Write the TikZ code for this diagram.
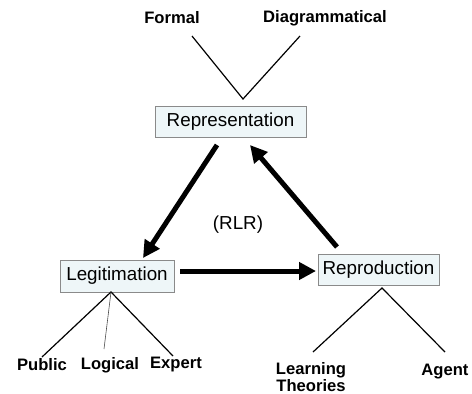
\documentclass[tikz,border=0pt]{standalone}
\usepackage{fontspec}
\setmainfont{Liberation Sans}
\usetikzlibrary{arrows.meta}
\definecolor{boxfill}{HTML}{EEF6F8}
\definecolor{boxline}{HTML}{8A8A8A}
\tikzset{
  conceptbox/.style={draw=boxline, fill=boxfill, line width=0.9pt, font=\fontsize{18.8}{22}\selectfont, inner sep=0pt, minimum height=31pt},
  leaf/.style={font=\bfseries\fontsize{16.6}{19.5}\selectfont, inner sep=0pt, align=center},
  bigarrow/.style={line width=5pt, -{Triangle[length=17pt,width=17pt]}},
  branch/.style={line width=1.2pt, black},
  thinbranch/.style={line width=0.6pt, black!70}
}
\begin{document}
\begin{tikzpicture}[x=1pt,y=-1pt]
\useasboundingbox[fill=white] (0,0) rectangle (472,394);
% boxes
\node[conceptbox, minimum width=151pt] (rep) at (230.5,121.5) {Representation};
\node[conceptbox, minimum width=114pt, minimum height=32pt] (leg) at (117,276) {Legitimation};
\node[conceptbox, minimum width=121pt] (repro) at (378.5,269.5) {Reproduction};
% labels
\node[leaf] (formal) at (172,18) {Formal};
\node[leaf] (diag) at (325,18) {Diagrammatical};
\node[leaf] (public) at (42,365) {Public};
\node[leaf] (logical) at (110,365) {Logical};
\node[leaf] (expert) at (176,365) {Expert};
\node[leaf] (learning) at (311,377) {Learning\\[-2pt]Theories};
\node[leaf] (agent) at (445,372) {Agent};
\node[font=\fontsize{18.8}{22}\selectfont, inner sep=0pt] (rlr) at (238,225) {(RLR)};
% branch coordinates
\coordinate (vtop) at (243,99);
\coordinate (fend) at (192,36);
\coordinate (dend) at (300,36);
\coordinate (lroot) at (111,292);
\coordinate (pend) at (42,357);
\coordinate (lend) at (104,349);
\coordinate (eend) at (173,356);
\coordinate (rroot) at (382,288);
\coordinate (ltend) at (313,352);
\coordinate (aend) at (445,352);
% branches
\draw[branch] (fend) -- (vtop) -- (dend);
\draw[branch] (pend) -- (lroot) -- (eend);
\draw[thinbranch] (lroot) -- (lend);
\draw[branch] (ltend) -- (rroot) -- (aend);
% arrow coordinates
\coordinate (a1s) at (217,145);
\coordinate (a1e) at (143,258);
\coordinate (a2s) at (180,271);
\coordinate (a2e) at (316,271);
\coordinate (a3s) at (337,247);
\coordinate (a3e) at (250,145);
\draw[bigarrow] (a1s) -- (a1e);
\draw[bigarrow] (a2s) -- (a2e);
\draw[bigarrow] (a3s) -- (a3e);
\end{tikzpicture}
\end{document}
